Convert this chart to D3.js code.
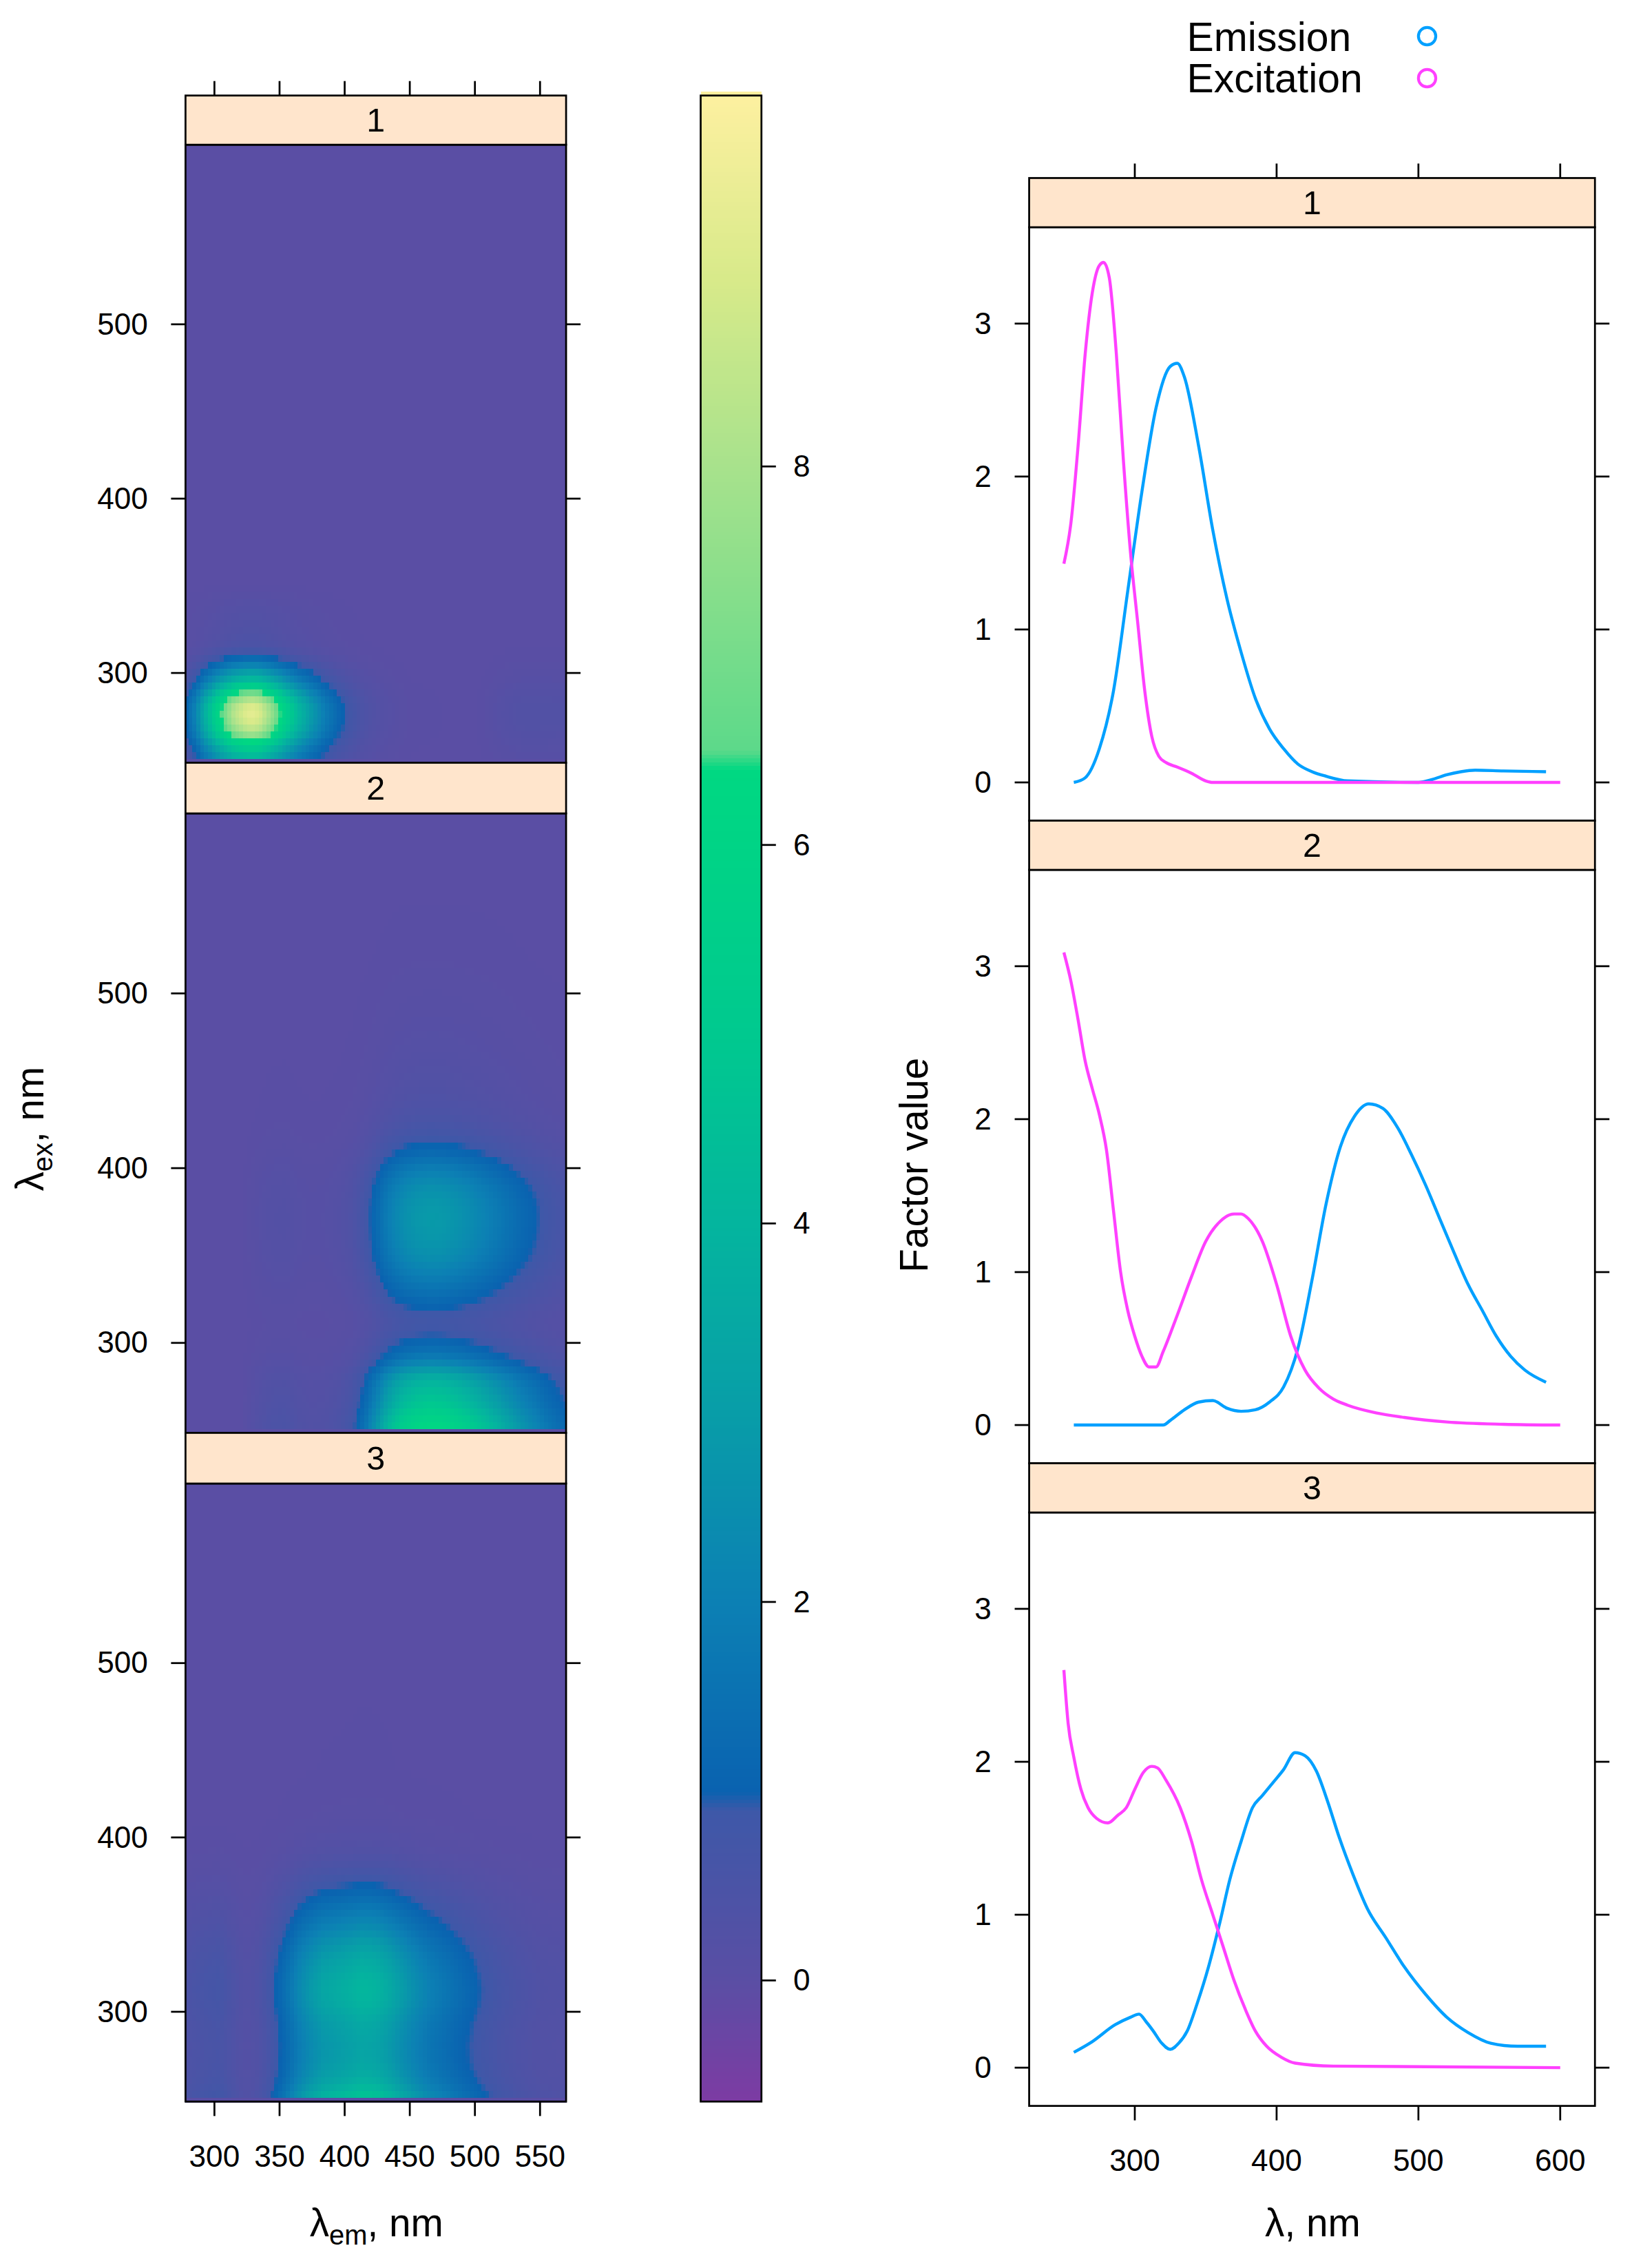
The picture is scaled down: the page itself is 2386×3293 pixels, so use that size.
<!DOCTYPE html>
<html><head><meta charset="utf-8">
<script src="https://cdn.jsdelivr.net/npm/d3@7"></script>
<style>body{margin:0;background:#fff}</style></head>
<body><svg id="c"></svg>
<script>
// ---- data: PARAFAC loadings (wavelength, value) ----
const ex1 = [[250,1.43],[255,1.7],[260,2.2],[265,2.8],[270,3.2],[275,3.38],[278,3.4],[282,3.3],[287,2.8],[292,2.1],[297,1.5],[302,1.05],[307,0.6],[312,0.3],[317,0.17],[322,0.13],[330,0.1],[340,0.06],[350,0.01],[355,0],[600,0]];
const em1 = [[257,0],[265,0.03],[275,0.22],[285,0.6],[295,1.25],[305,1.9],[315,2.45],[325,2.72],[330,2.74],[335,2.65],[345,2.2],[355,1.65],[365,1.2],[375,0.85],[385,0.55],[395,0.35],[405,0.22],[415,0.12],[425,0.07],[435,0.04],[450,0.01],[500,0],[510,0.02],[520,0.05],[530,0.07],[540,0.08],[560,0.075],[590,0.07]];
const ex2 = [[250,3.09],[255,2.9],[260,2.65],[265,2.38],[270,2.2],[275,2.03],[280,1.8],[285,1.4],[290,1.0],[295,0.75],[300,0.58],[305,0.45],[310,0.38],[315,0.38],[320,0.48],[330,0.72],[340,0.97],[350,1.2],[360,1.33],[370,1.38],[375,1.38],[380,1.35],[390,1.2],[400,0.92],[410,0.58],[420,0.36],[430,0.24],[440,0.17],[450,0.13],[470,0.08],[490,0.05],[520,0.02],[560,0.005],[600,0]];
const em2 = [[257,0],[320,0],[325,0.03],[335,0.1],[345,0.15],[355,0.16],[365,0.11],[375,0.09],[385,0.1],[395,0.15],[405,0.25],[415,0.5],[425,0.95],[435,1.45],[445,1.82],[455,2.02],[465,2.1],[475,2.07],[485,1.95],[495,1.77],[505,1.57],[515,1.35],[525,1.13],[535,0.92],[545,0.75],[555,0.58],[565,0.45],[575,0.36],[590,0.28]];
const ex3 = [[250,2.6],[253,2.25],[257,2.03],[262,1.82],[267,1.7],[273,1.63],[281,1.6],[288,1.65],[294,1.7],[300,1.82],[306,1.93],[312,1.97],[316,1.96],[322,1.88],[332,1.7],[340,1.48],[347,1.23],[355,1.0],[362,0.8],[370,0.57],[378,0.38],[385,0.24],[393,0.14],[403,0.07],[413,0.03],[440,0.01],[600,0]];
const em3 = [[257,0.1],[270,0.17],[286,0.28],[297,0.33],[303,0.35],[308,0.3],[313,0.24],[319,0.16],[325,0.12],[331,0.16],[337,0.24],[344,0.42],[352,0.66],[360,0.95],[367,1.23],[375,1.48],[383,1.7],[390,1.78],[398,1.87],[405,1.95],[413,2.06],[420,2.04],[428,1.94],[436,1.74],[444,1.51],[454,1.26],[464,1.04],[477,0.85],[490,0.66],[505,0.48],[520,0.33],[535,0.23],[551,0.16],[570,0.14],[590,0.14]];
const components = ["1","2","3"];
const exList = [ex1, ex2, ex3];
const emList = [em1, em2, em3];
const emTicks = [300,350,400,450,500,550];
const exTicks = [300,400,500];
const cbTicks = [0,2,4,6,8];
const lamTicks = [300,400,500,600];
const fvTicks = [0,1,2,3];
const legendLabels = ["Emission","Excitation"];
const colStops = [[-0.64,"#7d3ba3"],[0,"#5a4ea4"],[0.9,"#3e58a8"],[1.0,"#0a62b0"],[2,"#0c80b4"],[3,"#089da8"],[4,"#04b59e"],[5,"#00c98f"],[6.4,"#00d882"],[6.5,"#5cd98a"],[8,"#a8e28c"],[9,"#d8ea8a"],[9.96,"#fdf0a0"]];

// ---- layout ----
const svg = d3.select("#c").attr("width",2386).attr("height",3293).attr("viewBox","0 0 1135 1567");
const F = "Liberation Sans, Arial, sans-serif";
const EMC = "#00a0ff", EXC = "#ff40ff", STRIP = "#ffe5cc";
const color = d3.scaleLinear().domain(colStops.map(d=>d[0])).range(colStops.map(d=>d[1])).clamp(true);
function interp(arr){ const xs=arr.map(d=>d[0]), ys=arr.map(d=>d[1]);
  const f=d3.scaleLinear().domain(xs).range(ys).clamp(true);
  return x => (x<xs[0]||x>xs[xs.length-1]) ? 0 : f(x); }

const L = {x0:128,x1:391, strips:[[66,100,527],[527,562,990],[990,1025,1452]]};
const R = {x0:711,x1:1102, strips:[[123,157,567],[567,601,1011],[1011,1045,1455]]};
const xEm = d3.scaleLinear().domain([277.8,570]).range([L.x0,L.x1]);
const xLam = d3.scaleLinear().domain([225.5,624.5]).range([R.x0,R.x1]);
const tick = 10;

function strip(x0,x1,y0,y1,label){
  svg.append("rect").attr("x",x0).attr("y",y0).attr("width",x1-x0).attr("height",y1-y0).attr("fill",STRIP).attr("stroke","#000").attr("stroke-width",1.3);
  svg.append("text").attr("x",(x0+x1)/2).attr("y",(y0+y1)/2+8).attr("text-anchor","middle").attr("font-family",F).attr("font-size",23).text(label);
}
function ticksV(x,scale,vals,dir,labels){
  vals.forEach(v=>{ const y=scale(v);
    svg.append("line").attr("x1",x).attr("x2",x+dir*tick).attr("y1",y).attr("y2",y).attr("stroke","#000").attr("stroke-width",1.3);
    if(labels) svg.append("text").attr("x",dir<0?x-26:x+22).attr("y",y+7).attr("text-anchor",dir<0?"end":"start").attr("font-family",F).attr("font-size",21).text(v);
  });
}
function ticksH(y,scale,vals,dir,labels){
  vals.forEach(v=>{ const x=scale(v);
    svg.append("line").attr("x1",x).attr("x2",x).attr("y1",y).attr("y2",y+dir*tick).attr("stroke","#000").attr("stroke-width",1.3);
    if(labels) svg.append("text").attr("x",x).attr("y",y+45).attr("text-anchor","middle").attr("font-family",F).attr("font-size",21).text(v);
  });
}

// ---- left heatmaps ----
components.forEach((c,i)=>{
  const [sy,py0,py1] = L.strips[i];
  const yEx = d3.scaleLinear().domain([248.5,603]).range([py1,py0]);
  const fe = interp(emList[i]), fx = interp(exList[i]);
  const g = svg.append("g").attr("shape-rendering","crispEdges");
  const cells=[];
  const de=3, dx=4;
  for(let e=277; e<571; e+=de) for(let x=247; x<604; x+=dx) cells.push({e,x,v:fe(e+de/2)*fx(x+dx/2)});
  g.selectAll("rect").data(cells).join("rect")
   .attr("x",d=>Math.max(L.x0,xEm(d.e))).attr("y",d=>Math.max(py0,yEx(d.x+dx)))
   .attr("width",d=>Math.max(0,Math.min(L.x1,xEm(d.e+de))-Math.max(L.x0,xEm(d.e)))+0.6)
   .attr("height",d=>Math.max(0,Math.min(py1,yEx(d.x))-Math.max(py0,yEx(d.x+dx)))+0.6)
   .attr("fill",d=>color(d.v));
  svg.append("rect").attr("x",L.x0).attr("y",py0).attr("width",L.x1-L.x0).attr("height",py1-py0).attr("fill","none").attr("stroke","#000").attr("stroke-width",1.3);
  strip(L.x0,L.x1,sy,py0,c);
  ticksV(L.x0,yEx,exTicks,-1,true);
  ticksV(L.x1,yEx,exTicks,1,false);
});
ticksH(1452,xEm,emTicks,1,true);
ticksH(66,xEm,emTicks,-1,false);

// ---- colorbar ----
const cb = {x0:484,x1:526,y0:66,y1:1452};
const yCb = d3.scaleLinear().domain([-0.64,9.96]).range([cb.y1,cb.y0]);
const cbVals = d3.range(-0.64,9.96,0.02);
svg.append("g").attr("shape-rendering","crispEdges").selectAll("rect").data(cbVals).join("rect")
  .attr("x",cb.x0).attr("width",cb.x1-cb.x0).attr("y",d=>yCb(d+0.02)).attr("height",d=>yCb(d)-yCb(d+0.02)+0.5).attr("fill",d=>color(d+0.01));
svg.append("rect").attr("x",cb.x0).attr("y",cb.y0).attr("width",cb.x1-cb.x0).attr("height",cb.y1-cb.y0).attr("fill","none").attr("stroke","#000").attr("stroke-width",1.3);
ticksV(cb.x1,yCb,cbTicks,1,true);

// ---- right line panels ----
components.forEach((c,i)=>{
  const [sy,py0,py1] = R.strips[i];
  const y = d3.scaleLinear().domain([-0.25,3.63]).range([py1,py0]);
  svg.append("rect").attr("x",R.x0).attr("y",py0).attr("width",R.x1-R.x0).attr("height",py1-py0).attr("fill","none").attr("stroke","#000").attr("stroke-width",1.3);
  const line = d3.line().x(d=>xLam(d[0])).y(d=>y(d[1])).curve(d3.curveMonotoneX);
  svg.append("path").attr("d",line(emList[i])).attr("fill","none").attr("stroke",EMC).attr("stroke-width",2.1);
  svg.append("path").attr("d",line(exList[i])).attr("fill","none").attr("stroke",EXC).attr("stroke-width",2.1);
  strip(R.x0,R.x1,sy,py0,c);
  ticksV(R.x0,y,fvTicks,-1,true);
  ticksV(R.x1,y,fvTicks,1,false);
});
ticksH(1455,xLam,lamTicks,1,true);
ticksH(123,xLam,lamTicks,-1,false);

// ---- legend ----
[[EMC,25],[EXC,54]].forEach((d,i)=>{
  svg.append("text").attr("x",820).attr("y",d[1]+10).attr("font-family",F).attr("font-size",28).text(legendLabels[i]);
  svg.append("circle").attr("cx",986).attr("cy",d[1]).attr("r",6).attr("fill","none").attr("stroke",d[0]).attr("stroke-width",2);
});

// ---- axis titles ----
function lamTitle(x,y,sub,rot){
  const t = svg.append("text").attr("font-family",F).attr("font-size",27).attr("text-anchor","middle")
    .attr("transform",`translate(${x},${y}) rotate(${rot})`);
  t.append("tspan").text("λ");
  if(sub) t.append("tspan").attr("font-size",19).attr("dy",6).text(sub);
  t.append("tspan").attr("dy",sub?-6:0).text(", nm");
}
lamTitle(30,780,"ex",-90);
lamTitle(260,1545,"em",0);
lamTitle(907,1545,null,0);
svg.append("text").attr("font-family",F).attr("font-size",27).attr("text-anchor","middle").attr("transform","translate(641,805) rotate(-90)").text("Factor value");
</script></body></html>
